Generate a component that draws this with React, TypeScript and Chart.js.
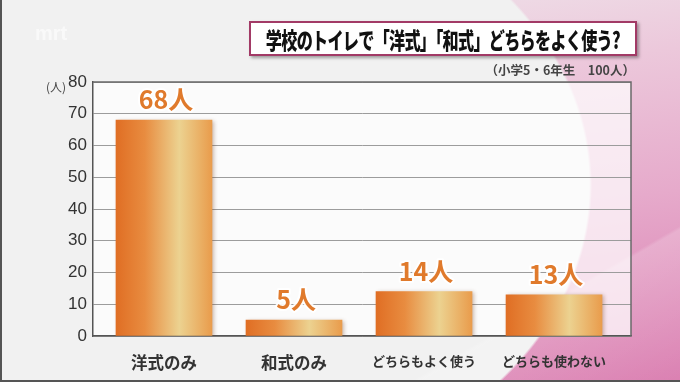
import React, { useEffect, useRef } from "react";
import { Chart, registerables } from "chart.js";

Chart.register(...registerables);

const categories = ["洋式のみ", "和式のみ", "どちらもよく使う", "どちらも使わない"];
const counts = [68, 5, 14, 13];
const valueLabels = ["68人", "5人", "14人", "13人"];
const yMin = 0;
const yMax = 80;
const yStep = 10;
const titleText = "学校のトイレで「洋式」「和式」どちらをよく使う?";
const subtitleText = "（小学5・6年生　100人）";
const unitText = "(人)";

const X_MIN = -0.546;
const X_MAX = 3.592;
const JP = "'Noto Sans CJK JP', 'Noto Sans', sans-serif";
const NUM = "'Liberation Sans Narrow', 'Liberation Sans', 'Noto Sans', sans-serif";

const plotPlugin = {
  id: "plotDecor",
  beforeDraw(chart: any) {
    const { ctx, chartArea: a } = chart;
    ctx.save();
    ctx.fillStyle = "rgba(255,255,255,0.72)";
    ctx.fillRect(a.left, a.top, a.right - a.left, a.bottom - a.top);
    ctx.restore();
  },
  beforeDatasetsDraw(chart: any) {
    const { ctx, chartArea: a } = chart;
    ctx.save();
    ctx.strokeStyle = "#6a6a6a";
    ctx.lineWidth = 1.5;
    ctx.beginPath();
    ctx.moveTo(a.left, a.top);
    ctx.lineTo(a.right, a.top);
    ctx.lineTo(a.right, a.bottom);
    ctx.stroke();
    ctx.restore();
    ctx.save();
    ctx.shadowColor = "rgba(110,60,30,0.35)";
    ctx.shadowBlur = 4;
    ctx.shadowOffsetX = 2;
    ctx.shadowOffsetY = 1;
  },
  afterDatasetsDraw(chart: any) {
    const { ctx } = chart;
    ctx.restore();
    const meta = chart.getDatasetMeta(0);
    ctx.save();
    ctx.font = `bold 25px ${JP}`;
    ctx.textAlign = "center";
    ctx.textBaseline = "alphabetic";
    meta.data.forEach((el: any, i: number) => {
      const x = el.x + 2;
      const y = el.y - 11;
      ctx.lineJoin = "round";
      ctx.strokeStyle = "rgba(255,255,255,0.9)";
      ctx.lineWidth = 4;
      ctx.strokeText(valueLabels[i], x, y);
      ctx.fillStyle = "#e07a2c";
      ctx.fillText(valueLabels[i], x, y);
    });
    ctx.restore();
  },
};

export default function App() {
  const ref = useRef<HTMLCanvasElement | null>(null);

  useEffect(() => {
    document.body.style.margin = "0";
    const canvas = ref.current!;
    const chart = new Chart(canvas, {
      type: "bar",
      data: {
        datasets: [
          {
            data: counts.map((v, i) => ({ x: i, y: v })),
            barThickness: 96,
            borderWidth: 0,
            backgroundColor: (c: any) => {
              const ch = c.chart;
              if (!ch.chartArea || c.dataIndex === undefined) return "#e89040";
              const cx = ch.scales.x.getPixelForValue(c.dataIndex);
              const g = ch.ctx.createLinearGradient(cx - 48, 0, cx + 48, 0);
              g.addColorStop(0, "#e06e24");
              g.addColorStop(0.3, "#e88c40");
              g.addColorStop(0.66, "#ecd290");
              g.addColorStop(1, "#e99c4c");
              return g;
            },
          },
        ],
      },
      options: {
        animation: false,
        responsive: false,
        layout: { padding: { left: 0, right: 49, top: 82, bottom: 0 } },
        plugins: { legend: { display: false }, tooltip: { enabled: false } },
        scales: {
          x: {
            type: "linear",
            min: X_MIN,
            max: X_MAX,
            offset: false,
            grid: { display: false },
            border: { display: true, color: "#555", width: 1.5 },
            afterBuildTicks: (s: any) => {
              s.ticks = categories.map((_, i) => ({ value: i }));
            },
            ticks: {
              autoSkip: false,
              maxRotation: 0,
              padding: 9,
              color: "#333",
              font: (c: any) => {
                const v = c.tick ? c.tick.value : 0;
                const lbl = categories[v] || "";
                return { family: JP, weight: "bold", size: lbl.length > 5 ? 13 : 16.5 };
              },
              callback: (v: any) => categories[v] || "",
            },
            afterFit: (s: any) => {
              s.height = 46;
            },
          },
          y: {
            min: yMin,
            max: yMax,
            ticks: { stepSize: yStep, color: "#333", padding: 6, font: { family: NUM, size: 17 } },
            grid: { color: "#9c9c9c", lineWidth: 1, drawTicks: false },
            border: { color: "#555", width: 1.5 },
            afterFit: (s: any) => {
              s.width = 93;
            },
          },
        },
      } as any,
      plugins: [plotPlugin],
    });
    return () => chart.destroy();
  }, []);

  const bg = [
    "linear-gradient(150deg, rgba(255,255,255,0) 0%, rgba(255,255,255,0) 80%, rgba(255,255,255,0.18) 80.5%, rgba(255,255,255,0.05) 100%)",
    "radial-gradient(ellipse 400px 310px at 190px 185px, #f1f1f1 0, #f1f1f1 99.3%, rgba(241,241,241,0) 100%)",
    "linear-gradient(172deg, #f0eaee 0%, #ecc8db 30%, #e6aacb 60%, #d97aae 100%)",
  ].join(",");

  return (
    <div
      style={{
        position: "relative",
        width: 680,
        height: 382,
        overflow: "hidden",
        background: bg,
        boxSizing: "border-box",
        borderLeft: "2px solid #555",
        borderBottom: "2px solid #555",
      }}
    >
      <canvas
        ref={ref}
        width={680}
        height={382}
        style={{ position: "absolute", left: -2, top: 0, width: 680, height: 382 }}
      />
      <div
        style={{
          position: "absolute",
          left: 33,
          top: 22,
          fontFamily: "'Liberation Sans', sans-serif",
          fontWeight: "bold",
          fontSize: 20,
          color: "rgba(255,255,255,0.6)",
        }}
      >
        mrt
      </div>
      <div
        style={{
          position: "absolute",
          left: 247,
          top: 21,
          width: 388,
          height: 35,
          boxSizing: "border-box",
          border: "2px solid #a23a66",
          background: "#ffffff",
          boxShadow: "2px 2px 3px rgba(0,0,0,0.35)",
          display: "flex",
          alignItems: "center",
          justifyContent: "center",
          overflow: "visible",
        }}
      >
        <span
          style={{
            fontFamily: JP,
            fontWeight: 900,
            fontSize: 23,
            color: "#111",
            whiteSpace: "nowrap",
            transform: "scaleX(0.7)",
            display: "inline-block",
            letterSpacing: -1,
          }}
        >
          {titleText}
        </span>
      </div>
      <div
        style={{
          position: "absolute",
          right: 45,
          top: 60,
          fontFamily: JP,
          fontWeight: "bold",
          fontSize: 12.5,
          color: "#444",
          whiteSpace: "nowrap",
        }}
      >
        {subtitleText}
      </div>
      <div
        style={{
          position: "absolute",
          left: 44,
          top: 78,
          fontFamily: JP,
          fontSize: 12,
          color: "#444",
          whiteSpace: "nowrap",
        }}
      >
        {unitText}
      </div>
    </div>
  );
}
